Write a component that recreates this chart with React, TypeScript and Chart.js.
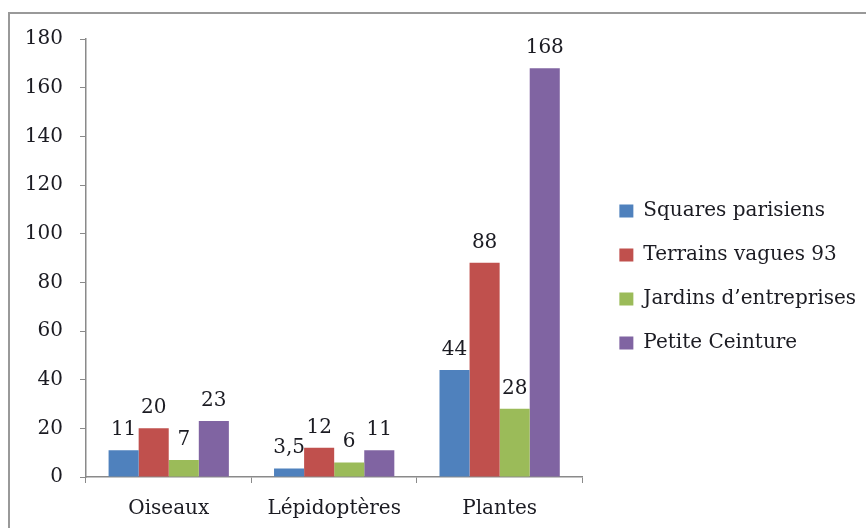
import React, { useEffect, useRef } from "react";
import { Chart, registerables } from "chart.js";

Chart.register(...registerables);

const categories = ["Oiseaux", "Lépidoptères", "Plantes"];
const seriesNames = ["Squares parisiens", "Terrains vagues 93", "Jardins d’entreprises", "Petite Ceinture"];
const squaresParisiens = [11, 3.5, 44];
const terrainsVagues93 = [20, 12, 88];
const jardinsEntreprises = [7, 6, 28];
const petiteCeinture = [23, 11, 168];
const seriesColors = ["#4F81BD", "#C0504D", "#9BBB59", "#8064A2"];
const yMin = 0;
const yMax = 180;
const yStep = 20;

const FONT = "'DejaVu Serif', serif";
const FS = 20;
const TEXT = "#1b1b22";
const AXIS = "#8a8a8a";

const valueLabels = {
  id: "valueLabels",
  afterDatasetsDraw(chart: any) {
    const ctx = chart.ctx;
    ctx.save();
    ctx.font = `${FS}px ${FONT}`;
    ctx.fillStyle = TEXT;
    ctx.textAlign = "center";
    ctx.textBaseline = "alphabetic";
    chart.data.datasets.forEach((ds: any, i: number) => {
      const meta = chart.getDatasetMeta(i);
      meta.data.forEach((el: any, j: number) => {
        const v = ds.data[j];
        const txt = String(v).replace(".", ",");
        ctx.fillText(txt, el.x, el.y - 15);
      });
    });
    ctx.restore();
  },
};

export default function App() {
  const ref = useRef<HTMLCanvasElement>(null);
  useEffect(() => {
    document.body.style.margin = "0";
    const values = [squaresParisiens, terrainsVagues93, jardinsEntreprises, petiteCeinture];
    const chart = new Chart(ref.current!, {
      type: "bar",
      data: {
        labels: categories,
        datasets: seriesNames.map((name, i) => ({
          label: name,
          data: values[i],
          backgroundColor: seriesColors[i],
          borderWidth: 0,
          categoryPercentage: 0.727,
          barPercentage: 1,
          yAxisID: "y",
        })),
      },
      options: {
        animation: false,
        responsive: false,
        maintainAspectRatio: false,
        layout: { padding: { top: 39, left: 8, right: 0, bottom: 0 } },
        plugins: {
          tooltip: { enabled: false },
          legend: {
            position: "right",
            align: "start",
            maxWidth: 320,
            title: {
              display: true,
              text: " ",
              font: { size: 10, lineHeight: 1 },
              padding: { top: 128, bottom: 0 },
            },
            labels: {
              font: { family: FONT, size: FS },
              color: TEXT,
              boxWidth: 14,
              boxHeight: 13,
              padding: 24,
            },
          },
        },
        scales: {
          x: {
            grid: { display: true, drawOnChartArea: false, offset: true, tickLength: 6, color: AXIS },
            border: { color: AXIS, width: 1.5 },
            ticks: { font: { family: FONT, size: FS }, color: TEXT, padding: 14 },
            afterFit: (s: any) => {
              s.height = 51;
            },
          },
          y: {
            min: yMin,
            max: yMax,
            grid: { display: true, drawOnChartArea: false, tickLength: 6, color: AXIS },
            border: { color: AXIS, width: 1.5 },
            ticks: { stepSize: yStep, font: { family: FONT, size: FS }, color: TEXT, padding: 17 },
            afterFit: (s: any) => {
              s.width = 78;
            },
          },
          spacer: {
            type: "linear",
            position: "right",
            display: true,
            grid: { display: false },
            ticks: { display: false },
            border: { display: false },
            afterFit: (s: any) => {
              s.width = 13;
            },
          },
        },
      },
      plugins: [valueLabels],
    });
    return () => chart.destroy();
  }, []);
  return (
    <div>
      <canvas ref={ref} width={866} height={528} style={{ position: "fixed", left: 0, top: 0, width: 866, height: 528 }} />
      <div style={{ position: "fixed", left: 8, top: 12, width: 900, height: 600, border: "2px solid #999", pointerEvents: "none" }} />
    </div>
  );
}
